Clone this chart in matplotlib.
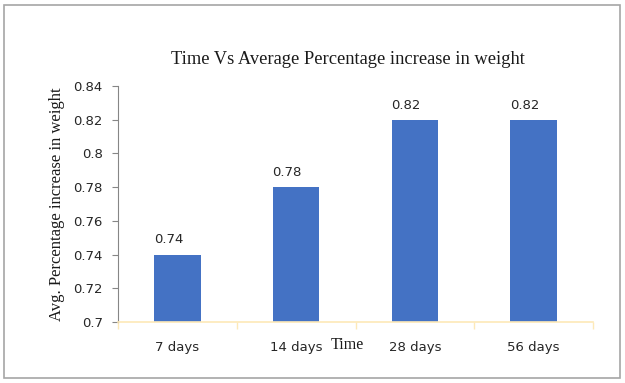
import matplotlib.pyplot as plt
import matplotlib.patches as patches

# 기간별 평균 체중 증가율
categories = ['7 days', '14 days', '28 days', '56 days']
values = [0.74, 0.78, 0.82, 0.82]
value_labels = ['0.74', '0.78', '0.82', '0.82']
yticks = [0.7, 0.72, 0.74, 0.76, 0.78, 0.8, 0.82, 0.84]
ytick_labels = ['0.7', '0.72', '0.74', '0.76', '0.78', '0.8', '0.82', '0.84']

serif = ['Liberation Serif', 'DejaVu Serif']
sans = ['DejaVu Sans']

fig = plt.figure(figsize=(6.25, 3.83), dpi=100)
ax = fig.add_axes([118 / 625, 1 - 322 / 383, 475 / 625, 236 / 383])

# 바깥 테두리
fig.patches.append(patches.Rectangle((4 / 625, 1 - 378 / 383), 616 / 625, 373 / 383,
                                     transform=fig.transFigure, fill=False,
                                     edgecolor='#a6a6a6', linewidth=1.2))

x = range(len(categories))
ax.bar(x, values, width=0.39, color='#4472c4', zorder=2)
for i, v in enumerate(values):
    ax.text(i - 0.076, v + 0.0048, value_labels[i], ha='center', va='bottom',
            fontsize=9.5, family=sans, color='#262626')

ax.set_xlim(-0.5, len(categories) - 0.5)
ax.set_ylim(0.7, 0.84)
ax.set_yticks(yticks)
ax.set_yticklabels(ytick_labels, family=sans, fontsize=9.5, color='#262626')
ax.set_xticks(list(x))
ax.set_xticklabels(categories, family=sans, fontsize=9.5, color='#262626')
ax.tick_params(axis='x', length=0, pad=14)
ax.tick_params(axis='y', length=4, color='#868686', pad=7)

# 카테고리 경계 눈금
ax.set_xticks([-0.5, 0.5, 1.5, 2.5, 3.5], minor=True)
ax.tick_params(axis='x', which='minor', length=5, color='#fde9b8', width=1)

for s in ['top', 'right']:
    ax.spines[s].set_visible(False)
ax.spines['left'].set_color('#868686')
ax.spines['bottom'].set_color('#fde9b8')
ax.spines['bottom'].set_linewidth(1.2)

ax.set_title('Time Vs Average Percentage increase in weight', family=serif,
             fontsize=13.3, color='#1a1a1a', pad=16, x=0.485)
ax.set_ylabel('Avg. Percentage increase in weight', family=serif, fontsize=12,
              color='#1a1a1a', labelpad=6)
ax.set_xlabel('Time', family=serif, fontsize=11.5, color='#1a1a1a')
ax.xaxis.set_label_coords((347 - 118) / 475, -0.064)

fig.savefig('out.png', dpi=100)
